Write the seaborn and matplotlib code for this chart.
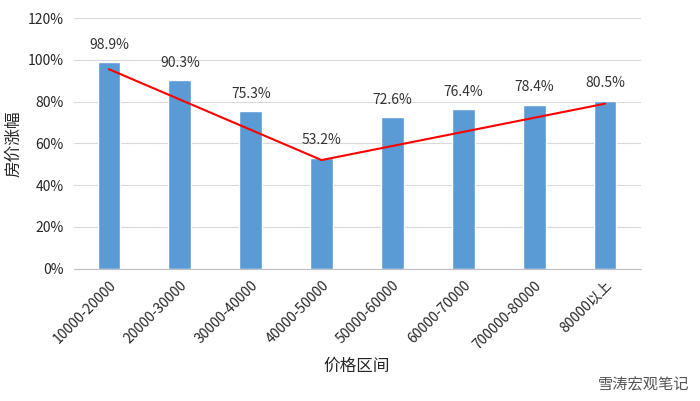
import pandas as pd
import matplotlib.pyplot as plt
import seaborn as sns

sns.set_style("white")
plt.rcParams['font.family'] = ['Noto Sans CJK SC', 'DejaVu Sans']

categories = ['10000-20000', '20000-30000', '30000-40000', '40000-50000',
              '50000-60000', '60000-70000', '700000-80000', '80000以上']
values = [98.9, 90.3, 75.3, 53.2, 72.6, 76.4, 78.4, 80.5]
# red trend line: start, lowest point, end
trend_idx = [0, 3, 7]
trend_val = [95.5, 52.0, 79.0]

df = pd.DataFrame({'cat': categories, 'val': values})

fig, ax = plt.subplots(figsize=(7, 4.01), dpi=100)
sns.barplot(data=df, x='cat', y='val', color='#5B9BD5', saturation=1, width=0.32, ax=ax, zorder=2)
ax.plot(trend_idx, trend_val, color='#FF0000', lw=1.5, zorder=3)

for i, v in enumerate(values):
    ax.text(i, v + 5, f'{v}%', ha='center', va='bottom', fontsize=10, color='#333333')

ax.set_xlim(-0.5, 7.5)
ax.set_ylim(0, 120)
ax.set_yticks(range(0, 121, 20))
ax.set_yticklabels([f'{t}%' for t in range(0, 121, 20)], fontsize=10)
ax.yaxis.grid(True, color='#D9D9D9', lw=0.8, zorder=0)
ax.set_axisbelow(True)
ax.tick_params(axis='x', labelrotation=45, labelsize=10)
for lbl in ax.get_xticklabels():
    lbl.set_ha('right')
    lbl.set_rotation_mode('anchor')
for s in ['top', 'right', 'left']:
    ax.spines[s].set_visible(False)
ax.spines['bottom'].set_color('#BFBFBF')
ax.set_xlabel('价格区间', fontsize=12)
ax.set_ylabel('房价涨幅', fontsize=12)

fig.text(0.985, 0.02, '雪涛宏观笔记', ha='right', va='bottom', fontsize=11, color='#555555')
plt.subplots_adjust(left=0.105, right=0.915, top=0.955, bottom=0.33)
plt.savefig('out.png')
